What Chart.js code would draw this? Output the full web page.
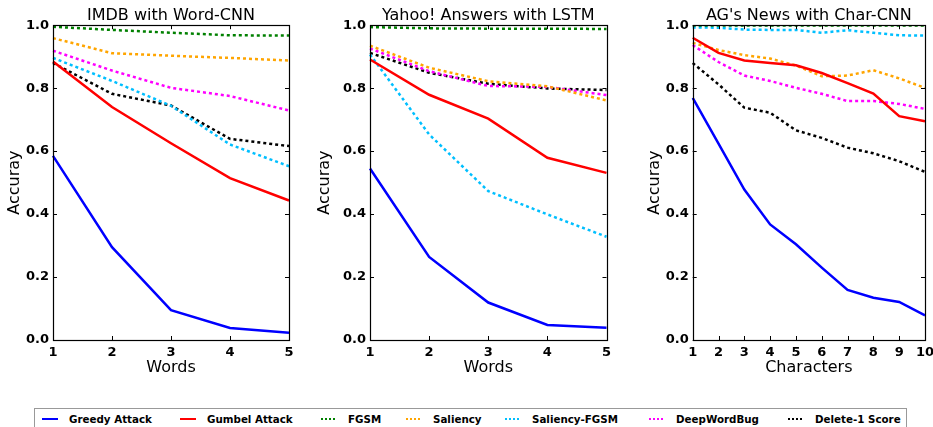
<!DOCTYPE html>
<html>
<head>
<meta charset="utf-8">
<script src="https://cdn.jsdelivr.net/npm/chart.js@4/dist/chart.umd.min.js"></script>
<style>
  html, body { margin: 0; padding: 0; background: #fff; width: 933px; height: 427px; overflow: hidden; }
  canvas { position: absolute; top: 0; }
  #legend { position: absolute; left: 34px; top: 408px; width: 873px; height: 26px; border: 1px solid #999; box-sizing: border-box;
    font-family: "DejaVu Sans", sans-serif; font-weight: bold; font-size: 10.3px; color: #000; }
  .item { position: absolute; top: 3px; height: 14px; display: flex; align-items: center; white-space: nowrap; }
  .swatch { width: 16px; height: 2px; margin-right: 11px; }
</style>
</head>
<body>
<canvas id="c1" width="310" height="380" style="left:0px"></canvas>
<canvas id="c2" width="310" height="380" style="left:310px"></canvas>
<canvas id="c3" width="293" height="380" style="left:640px"></canvas>
<div id="legend"></div>
<script>
// ---- data ----
const wordSteps = ['1', '2', '3', '4', '5'];
const charSteps = ['1', '2', '3', '4', '5', '6', '7', '8', '9', '10'];
const yTicks = [0.0, 0.2, 0.4, 0.6, 0.8, 1.0];

const seriesNames = ['Greedy Attack', 'Gumbel Attack', 'FGSM', 'Saliency', 'Saliency-FGSM', 'DeepWordBug', 'Delete-1 Score'];
const seriesColors = ['#0000ff', '#ff0000', '#008000', '#ffa500', '#00bfff', '#ff00ff', '#000000'];
const seriesDashed = [false, false, true, true, true, true, true];

// IMDB with Word-CNN
const imdbGreedy = [0.585, 0.295, 0.095, 0.038, 0.023];
const imdbGumbel = [0.885, 0.740, 0.625, 0.514, 0.443];
const imdbFGSM = [0.995, 0.985, 0.976, 0.968, 0.967];
const imdbSaliency = [0.959, 0.911, 0.903, 0.896, 0.888];
const imdbSaliencyFGSM = [0.896, 0.823, 0.744, 0.621, 0.552];
const imdbDeepWordBug = [0.919, 0.856, 0.801, 0.775, 0.729];
const imdbDelete1 = [0.880, 0.782, 0.745, 0.639, 0.616];

// Yahoo! Answers with LSTM
const yahooGreedy = [0.545, 0.264, 0.119, 0.048, 0.039];
const yahooGumbel = [0.891, 0.779, 0.703, 0.579, 0.531];
const yahooFGSM = [0.994, 0.990, 0.989, 0.989, 0.988];
const yahooSaliency = [0.935, 0.865, 0.822, 0.806, 0.761];
const yahooSaliencyFGSM = [0.907, 0.653, 0.473, 0.399, 0.328];
const yahooDeepWordBug = [0.926, 0.854, 0.807, 0.804, 0.778];
const yahooDelete1 = [0.912, 0.849, 0.814, 0.799, 0.794];

// AG's News with Char-CNN
const agGreedy = [0.769, 0.624, 0.478, 0.367, 0.304, 0.230, 0.159, 0.134, 0.121, 0.078];
const agGumbel = [0.960, 0.912, 0.888, 0.880, 0.873, 0.848, 0.816, 0.783, 0.711, 0.695];
const agFGSM = [0.999, 0.999, 0.999, 0.999, 0.999, 0.999, 0.999, 0.999, 0.999, 0.999];
const agSaliency = [0.944, 0.921, 0.905, 0.894, 0.872, 0.838, 0.840, 0.857, 0.831, 0.801];
const agSaliencyFGSM = [0.993, 0.992, 0.986, 0.985, 0.985, 0.976, 0.984, 0.976, 0.968, 0.967];
const agDeepWordBug = [0.937, 0.883, 0.840, 0.823, 0.801, 0.782, 0.759, 0.759, 0.750, 0.734];
const agDelete1 = [0.880, 0.812, 0.738, 0.722, 0.666, 0.642, 0.611, 0.593, 0.568, 0.534];

// ---- rendering ----
const FONT = '"DejaVu Sans", sans-serif';

const framePlugin = {
  id: 'frame',
  afterDatasetsDraw(chart) {
    const ctx = chart.ctx, a = chart.chartArea;
    const xs = chart.scales.x, ys = chart.scales.y;
    const L = 4;
    ctx.save();
    ctx.strokeStyle = '#000';
    ctx.lineWidth = 1;
    ctx.beginPath();
    xs.ticks.forEach((t, i) => {
      const px = Math.round(xs.getPixelForTick(i)) + 0.5;
      ctx.moveTo(px, a.bottom); ctx.lineTo(px, a.bottom - L);
      ctx.moveTo(px, a.top); ctx.lineTo(px, a.top + L);
    });
    ys.ticks.forEach((t) => {
      const py = Math.round(ys.getPixelForValue(t.value)) + 0.5;
      ctx.moveTo(a.left, py); ctx.lineTo(a.left + L, py);
      ctx.moveTo(a.right, py); ctx.lineTo(a.right - L, py);
    });
    ctx.stroke();
    ctx.lineWidth = 1.2;
    ctx.strokeRect(Math.round(a.left) + 0.5, Math.round(a.top) + 0.5, Math.round(a.right - a.left), Math.round(a.bottom - a.top));
    ctx.restore();
  }
};

function makeDatasets(valueArrays) {
  return valueArrays.map((vals, i) => ({
    label: seriesNames[i],
    data: vals,
    borderColor: seriesColors[i],
    backgroundColor: seriesColors[i],
    borderWidth: 2.5,
    borderDash: seriesDashed[i] ? [3, 3] : [],
    pointRadius: 0,
    tension: 0,
    fill: false,
    order: i
  }));
}

function makeChart(id, title, xTitle, labels, valueArrays, yWidth, padRight) {
  return new Chart(document.getElementById(id), {
    type: 'line',
    data: { labels: labels, datasets: makeDatasets(valueArrays) },
    plugins: [framePlugin],
    options: {
      responsive: false,
      animation: false,
      devicePixelRatio: 1,
      layout: { padding: { left: 0, right: padRight, top: 0, bottom: 0 } },
      plugins: {
        legend: { display: false },
        tooltip: { enabled: false },
        title: {
          display: true, text: title, fullSize: false, color: '#000',
          font: { family: FONT, size: 16, weight: 'normal', lineHeight: 1.2 },
          padding: { top: 6, bottom: 0 }
        }
      },
      scales: {
        x: {
          type: 'category', offset: false,
          grid: { display: false, drawTicks: false, tickLength: 0 }, border: { display: false },
          ticks: { color: '#000', font: { family: FONT, size: 13, weight: 'bold' }, padding: 5, maxRotation: 0, autoSkip: false },
          title: { display: true, text: xTitle, color: '#000', font: { family: FONT, size: 16, weight: 'normal', lineHeight: 1.2 }, padding: { top: 0, bottom: 3 } },
          afterFit(s) { s.height = 40; s.paddingLeft = 0; s.paddingRight = 0; }
        },
        y: {
          min: 0, max: 1,
          grid: { display: false, drawTicks: false, tickLength: 0 }, border: { display: false },
          afterBuildTicks(s) { s.ticks = yTicks.map(v => ({ value: v })); },
          ticks: {
            color: '#000', font: { family: FONT, size: 13, weight: 'bold' }, padding: 4,
            callback: (v) => Number(v).toFixed(1)
          },
          title: { display: true, text: 'Accuray', color: '#000', font: { family: FONT, size: 16, weight: 'normal', lineHeight: 1.2 }, padding: { top: 5, bottom: 0 } },
          afterFit(s) { s.width = yWidth; s.paddingTop = 0; s.paddingBottom = 0; }
        }
      }
    }
  });
}

makeChart('c1', 'IMDB with Word-CNN', 'Words', wordSteps,
  [imdbGreedy, imdbGumbel, imdbFGSM, imdbSaliency, imdbSaliencyFGSM, imdbDeepWordBug, imdbDelete1], 53, 21);
makeChart('c2', 'Yahoo! Answers with LSTM', 'Words', wordSteps,
  [yahooGreedy, yahooGumbel, yahooFGSM, yahooSaliency, yahooSaliencyFGSM, yahooDeepWordBug, yahooDelete1], 60, 13.5);
makeChart('c3', "AG's News with Char-CNN", 'Characters', charSteps,
  [agGreedy, agGumbel, agFGSM, agSaliency, agSaliencyFGSM, agDeepWordBug, agDelete1], 52.7, 8);

// legend
const legendLefts = [7, 145, 286, 371, 470, 614, 753];
const legend = document.getElementById('legend');
seriesNames.forEach((name, i) => {
  const item = document.createElement('div');
  item.className = 'item';
  item.style.left = legendLefts[i] + 'px';
  const sw = document.createElement('span');
  sw.className = 'swatch';
  sw.style.background = seriesDashed[i]
    ? `repeating-linear-gradient(90deg, ${seriesColors[i]} 0 2px, transparent 2px 4px)`
    : seriesColors[i];
  item.appendChild(sw);
  const tx = document.createElement('span');
  tx.textContent = name;
  item.appendChild(tx);
  legend.appendChild(item);
});
</script>
</body>
</html>
